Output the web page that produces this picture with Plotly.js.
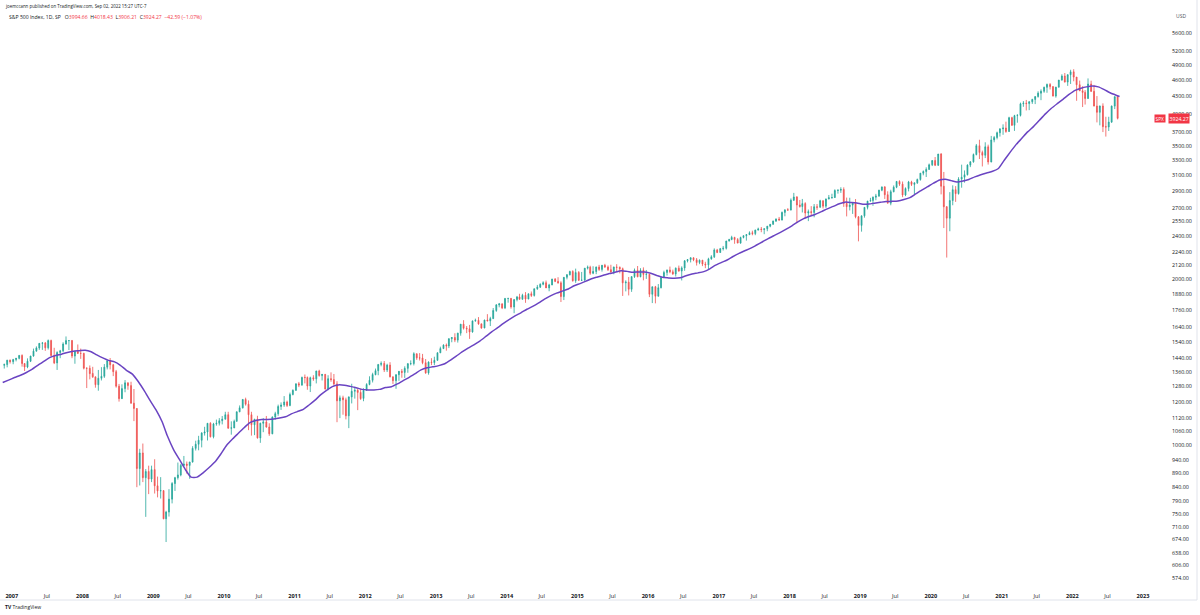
<!DOCTYPE html>
<html><head><meta charset="utf-8">
<script src="https://cdn.plot.ly/plotly-3.0.1.min.js"></script>
<style>html,body{margin:0;padding:0;background:#fff;}#chart{width:1200px;height:615px;}</style>
</head><body><div id="chart"></div>
<script>
// Semi-monthly S&P 500 candles (first period: 2nd half of Nov 2006; last: 16 Aug - 2 Sep 2022)
const firstPeriod = {year: 2006, month: 11, half: 2};
const open = [
1397,1401,1427,
1418,1431,1438,1456,1407,1387,1421,1452,1482,1502,1531,1533,1503,1549,1455,1411,1474,1484,1527,1549,1549,1452,1481,1468,
1468,1380,1379,1350,1331,1288,1323,1334,1386,1424,1400,1360,1280,1215,1267,1298,1283,1192,1166,907,968,873,896,868,
903,844,826,827,735,756,798,852,873,883,919,924,919,932,987,1004,1021,1052,1057,1096,1036,1093,1096,1108,
1115,1136,1074,1075,1105,1150,1169,1211,1187,1136,1089,1115,1031,1096,1102,1079,1049,1125,1141,1176,1183,1198,1181,1236,
1258,1293,1286,1328,1327,1281,1326,1320,1364,1338,1345,1265,1321,1316,1292,1204,1219,1209,1131,1224,1253,1258,1247,1216,
1258,1289,1312,1343,1366,1402,1408,1370,1398,1331,1310,1343,1362,1356,1379,1406,1407,1466,1441,1440,1412,1353,1416,1413,
1426,1472,1498,1520,1515,1561,1569,1552,1598,1659,1631,1627,1606,1682,1686,1661,1633,1688,1682,1698,1757,1798,1806,1776,
1848,1848,1783,1839,1859,1841,1872,1843,1884,1871,1924,1937,1960,1973,1931,1955,2003,1984,1972,1862,2018,2040,2068,1990,
2059,1993,1995,2097,2105,2053,2068,2107,2086,2123,2107,2084,2063,2107,2104,2092,1972,1978,1920,2024,2079,2023,2080,2043,
2044,1880,1940,1865,1932,2016,2060,2081,2065,2047,2097,2072,2099,2162,2174,2190,2171,2147,2168,2133,2126,2180,2199,2263,
2239,2275,2279,2349,2364,2385,2363,2329,2384,2402,2412,2432,2423,2459,2470,2465,2472,2500,2519,2553,2575,2565,2648,2676,
2674,2786,2824,2731,2714,2747,2641,2656,2648,2711,2705,2780,2718,2801,2816,2818,2902,2905,2914,2750,2712,2730,2760,2600,
2507,2610,2704,2776,2784,2822,2834,2906,2946,2851,2752,2887,2942,3014,2980,2848,2926,3007,2977,2996,3038,3120,3141,3169,
3231,3289,3226,3380,2954,2711,2585,2783,2912,2864,3044,3067,3100,3227,3271,3373,3500,3401,3363,3483,3270,3585,3622,3695,
3756,3768,3714,3935,3811,3969,3973,4170,4181,4174,4204,4247,4298,4360,4395,4468,4523,4481,4308,4471,4605,4683,4567,4710,
4766,4663,4516,4402,4374,4263,4530,4393,4132,4024,4132,3790,3785,3863,4130,4297];
const high = [
1407,1429,1431,
1435,1441,1457,1462,1410,1438,1453,1498,1512,1533,1540,1540,1556,1555,1503,1481,1490,1538,1576,1552,1553,1481,1524,1498,
1472,1385,1396,1388,1332,1370,1386,1404,1425,1440,1405,1370,1292,1290,1313,1300,1304,1265,1167,985,1007,905,918,918,
943,877,875,828,760,832,857,876,930,925,956,934,933,996,1019,1040,1056,1080,1097,1101,1098,1113,1120,1130,
1150,1150,1105,1113,1151,1181,1213,1220,1206,1150,1116,1131,1099,1120,1130,1096,1128,1150,1185,1196,1228,1205,1246,1263,
1294,1303,1332,1344,1333,1332,1340,1365,1371,1346,1346,1340,1356,1347,1307,1231,1230,1220,1226,1293,1277,1266,1267,1269,
1296,1334,1354,1378,1403,1420,1422,1406,1415,1333,1345,1364,1375,1391,1410,1426,1475,1467,1470,1465,1434,1420,1439,1448,
1474,1510,1525,1530,1564,1571,1597,1600,1660,1687,1646,1654,1684,1698,1709,1664,1690,1730,1711,1775,1805,1813,1811,1849,
1850,1851,1841,1867,1884,1884,1897,1885,1902,1925,1955,1968,1985,1991,1964,2006,2012,2019,1985,2019,2046,2075,2079,2093,
2072,2064,2098,2120,2118,2114,2111,2126,2124,2135,2121,2127,2110,2132,2112,2102,1993,2021,2028,2094,2116,2097,2104,2081,
2044,1941,1947,1962,2024,2075,2084,2111,2084,2103,2120,2113,2169,2178,2194,2193,2188,2175,2170,2154,2190,2214,2278,2273,
2282,2301,2351,2371,2401,2390,2378,2392,2405,2418,2446,2453,2463,2484,2491,2477,2501,2520,2559,2582,2598,2657,2680,2695,
2807,2873,2835,2789,2801,2763,2680,2718,2742,2742,2791,2785,2805,2848,2863,2916,2916,2941,2940,2817,2815,2765,2800,2607,
2613,2708,2778,2814,2830,2861,2910,2949,2954,2892,2911,2964,3018,3028,3013,2940,3021,3022,3000,3050,3122,3156,3197,3248,
3294,3338,3381,3393,3136,2718,2882,2965,2955,3068,3233,3156,3238,3280,3387,3525,3588,3428,3550,3515,3646,3645,3712,3760,
3827,3870,3950,3950,3982,3994,4191,4218,4238,4220,4258,4302,4394,4430,4480,4537,4546,4486,4476,4608,4718,4743,4715,4808,
4819,4665,4595,4489,4416,4637,4593,4513,4307,4140,4178,3950,3950,4140,4300,4325.28];
const low = [
1378,1385,1407,
1403,1420,1432,1389,1364,1380,1416,1448,1480,1490,1490,1484,1492,1450,1404,1370,1439,1476,1523,1489,1439,1406,1466,1435,
1373,1270,1317,1325,1272,1256,1311,1325,1373,1373,1335,1272,1200,1214,1248,1261,1190,1106,839,845,857,741,815,857,
817,804,800,734,667,742,784,826,866,878,915,888,869,930,978,979,991,1041,1020,1033,1029,1085,1086,1091,
1114,1071,1045,1074,1104,1148,1166,1180,1065,1041,1043,1028,1010,1056,1076,1040,1047,1113,1131,1159,1174,1173,1177,1232,
1255,1275,1282,1295,1261,1249,1309,1295,1332,1311,1262,1258,1304,1282,1101,1120,1136,1114,1074,1191,1215,1158,1209,1202,
1255,1285,1300,1340,1340,1391,1358,1358,1328,1292,1266,1309,1326,1325,1354,1397,1396,1429,1425,1403,1348,1343,1398,1398,
1424,1470,1495,1485,1501,1538,1539,1536,1581,1622,1598,1560,1601,1676,1655,1627,1631,1680,1646,1695,1747,1780,1767,1767,
1815,1770,1737,1825,1839,1839,1814,1842,1859,1862,1915,1930,1952,1930,1904,1953,1978,1965,1820,1835,2001,2034,1982,1972,
1988,1988,1981,2085,2039,2045,2045,2073,2067,2099,2072,2056,2044,2063,2052,1867,1903,1871,1899,2013,2019,2019,1993,2005,
1858,1812,1810,1863,1927,2013,2033,2053,2039,2025,2066,1992,2074,2148,2148,2159,2120,2132,2115,2097,2084,2172,2188,2233,
2238,2258,2267,2345,2357,2322,2328,2323,2375,2353,2410,2406,2407,2455,2437,2417,2447,2488,2515,2544,2557,2560,2605,2667,
2670,2777,2532,2701,2647,2585,2553,2612,2594,2676,2702,2692,2698,2796,2803,2813,2864,2873,2710,2604,2670,2631,2583,2346,
2443,2590,2681,2770,2722,2786,2830,2893,2801,2750,2728,2880,2930,2958,2822,2834,2891,2957,2856,2983,3024,3092,3070,3166,
3214,3214,3215,2855,2480,2192,2447,2728,2767,2853,2936,2999,3090,3200,3260,3361,3310,3209,3323,3234,3265,3550,3594,3636,
3663,3694,3710,3805,3723,3853,3955,4118,4056,4061,4168,4165,4280,4234,4367,4367,4428,4300,4279,4465,4595,4560,4495,4531,
4582,4223,4400,4114,4157,4261,4381,4124,3858,3811,3705,3636,3722,3850,4079,3906.21];
const close = [
1401,1427,1418,
1431,1438,1456,1407,1387,1421,1452,1482,1502,1531,1533,1503,1549,1455,1411,1474,1484,1527,1549,1549,1452,1481,1468,1468,
1380,1379,1349,1331,1288,1323,1334,1386,1424,1400,1360,1280,1215,1267,1298,1283,1192,1166,907,968,873,896,868,903,
844,826,827,735,756,798,852,873,883,919,924,919,932,987,1004,1021,1052,1057,1096,1036,1093,1096,1108,1115,
1136,1074,1075,1105,1150,1169,1211,1187,1136,1089,1115,1031,1096,1102,1079,1049,1125,1141,1176,1183,1198,1181,1236,1258,
1293,1286,1328,1327,1281,1326,1319,1364,1338,1345,1265,1321,1316,1292,1204,1219,1209,1131,1224,1253,1258,1247,1215,1258,
1289,1312,1344,1366,1402,1408,1370,1398,1331,1310,1343,1362,1356,1379,1406,1407,1466,1441,1440,1412,1353,1416,1413,1426,
1472,1498,1520,1515,1561,1569,1552,1598,1659,1631,1627,1606,1682,1686,1661,1633,1688,1682,1698,1757,1798,1806,1776,1848,
1848,1783,1839,1859,1841,1872,1843,1884,1871,1924,1937,1960,1973,1931,1955,2003,1984,1972,1862,2018,2040,2068,1990,2059,
1993,1995,2097,2105,2053,2068,2107,2086,2123,2107,2084,2063,2107,2104,2092,1972,1978,1920,2024,2079,2023,2080,2043,2044,
1880,1940,1865,1932,2016,2060,2081,2065,2047,2097,2072,2099,2162,2174,2190,2171,2147,2168,2133,2126,2180,2199,2263,2239,
2275,2279,2349,2364,2385,2363,2329,2384,2402,2412,2432,2423,2459,2470,2465,2472,2500,2519,2553,2575,2565,2648,2676,2674,
2786,2824,2731,2714,2747,2641,2656,2648,2711,2705,2780,2718,2801,2816,2818,2902,2905,2914,2750,2712,2730,2760,2600,2507,
2610,2704,2776,2784,2822,2834,2906,2946,2851,2752,2887,2942,3014,2980,2848,2926,3007,2977,2996,3038,3120,3141,3169,3231,
3289,3226,3380,2954,2711,2585,2783,2912,2864,3044,3067,3100,3227,3271,3373,3500,3401,3363,3483,3270,3585,3622,3695,3756,
3768,3714,3935,3811,3969,3973,4170,4181,4174,4204,4247,4298,4360,4395,4468,4523,4481,4308,4471,4605,4683,4567,4710,4766,
4663,4516,4402,4374,4263,4530,4393,4132,4024,4132,3790,3785,3863,4130,4297,3924.27];

// 200-day simple moving average, one value per month (mid-month), Nov 2006 .. Aug 2022, then 2 Sep 2022
const maFirstMonth = {year: 2006, month: 11};
const maValues = [
1300,1313,
1327,1340,1354,1373,1397,1420,1442,1455,1463,1474,1482,1485,
1488,1478,1459,1441,1426,1417,1397,1368,1346,1305,1256,1206,
1159,1104,1039,983,943,904,875,875,891,910,932,963,
1000,1027,1050,1076,1099,1109,1113,1114,1116,1120,1126,1140,
1151,1162,1182,1206,1234,1258,1278,1287,1285,1279,1272,1263,
1260,1260,1263,1273,1277,1292,1310,1328,1349,1370,1382,1388,
1395,1406,1426,1451,1477,1501,1522,1546,1576,1606,1635,1665,
1693,1719,1740,1766,1787,1813,1842,1868,1889,1905,1922,1948,
1966,1986,2006,2021,2035,2050,2061,2075,2069,2062,2064,2063,
2053,2034,2018,2013,2010,2014,2032,2047,2056,2067,2091,2123,
2148,2172,2202,2231,2255,2280,2310,2342,2375,2405,2436,2468,
2506,2547,2579,2605,2628,2657,2687,2715,2745,2764,2760,2754,
2741,2743,2752,2762,2771,2773,2777,2794,2817,2861,2907,2948,
2992,3032,3043,3024,3007,3019,3038,3072,3100,3123,3145,3181,
3296,3410,3512,3609,3708,3794,3893,3998,4093,4173,4254,4337,
4412,4451,4476,4492,4476,4425,4367,4323];
const maLastDate = '2022-09-02';
const maLastValue = 4300;

const lastPrice = 3924.27;
const priceTicks = [5600,5200,4900,4600,4300,4000,3700,3500,3300,3100,2900,2700,2550,2400,2240,2120,2000,1880,1760,1640,1540,1440,1360,1280,1200,1120,1060,1000,940,890,840,790,750,710,674,638,606,574];
const timeTickYears = [2007,2008,2009,2010,2011,2012,2013,2014,2015,2016,2017,2018,2019,2020,2021,2022,2023];

const pad = n => String(n).padStart(2,'0');
// candle dates (centre of each half-month period)
const dates = [];
{
  let y = firstPeriod.year, m = firstPeriod.month, h = firstPeriod.half;
  for (let i = 0; i < close.length; i++) {
    dates.push(y + '-' + pad(m) + '-' + (h === 1 ? '08' : '23'));
    if (h === 1) { h = 2; } else { h = 1; m++; if (m > 12) { m = 1; y++; } }
  }
}
const maDates = [];
{
  let y = maFirstMonth.year, m = maFirstMonth.month;
  for (let i = 0; i < maValues.length; i++) {
    maDates.push(y + '-' + pad(m) + '-15');
    m++; if (m > 12) { m = 1; y++; }
  }
}
const maX = maDates.concat([maLastDate]);
const maY = maValues.concat([maLastValue]);

const tickvals = [], ticktext = [];
timeTickYears.forEach(y => {
  tickvals.push(y + '-01-01'); ticktext.push('<b>' + y + '</b>');
  if (y < 2023) { tickvals.push(y + '-07-01'); ticktext.push('Jul'); }
});

const W = 1200, H = 615, ML = 0, MR = 33, MT = 0, MB = 26;
const PW = W - ML - MR, PH = H - MT - MB;
const px = v => (v - ML) / PW;
const py = v => (H - MB - v) / PH;

const green = '#26a69a', red = '#ef5350', txt = '#131722';

const traces = [
  {
    type: 'candlestick', x: dates, open: open, high: high, low: low, close: close,
    increasing: {line: {color: green, width: 0.8}, fillcolor: green},
    decreasing: {line: {color: red, width: 0.8}, fillcolor: red},
    whiskerwidth: 0, hoverinfo: 'skip', showlegend: false
  },
  {
    type: 'scatter', mode: 'lines', x: maX, y: maY,
    line: {color: '#6a44c2', width: 1.5, shape: 'spline', smoothing: 0.6},
    hoverinfo: 'skip', showlegend: false
  }
];

const annotations = [
  {xref:'paper', yref:'paper', x:px(3), y:py(6), xanchor:'left', yanchor:'middle', showarrow:false,
   text:'joemccann published on TradingView.com, Sep 02, 2022 15:27 UTC-7',
   font:{family:'Open Sans, sans-serif', size:4.4, color:txt}},
  {xref:'paper', yref:'paper', x:px(7), y:py(17), xanchor:'left', yanchor:'middle', showarrow:false,
   text:'S&amp;P 500 Index, 1D, SP   O<span style="color:#f23645">3994.66</span>  H<span style="color:#f23645">4018.43</span>  L<span style="color:#f23645">3906.21</span>  C<span style="color:#f23645">3924.27</span>  <span style="color:#f23645">−42.59 (−1.07%)</span>',
   font:{family:'Open Sans, sans-serif', size:5.1, color:txt}},
  {xref:'paper', yref:'paper', x:px(1174), y:py(16), xanchor:'left', yanchor:'middle', showarrow:false,
   text:'USD', font:{family:'Open Sans, sans-serif', size:5, color:'#50535e'}},
  {xref:'paper', yref:'y', x:px(1160), y:Math.log10(lastPrice), xanchor:'center', yanchor:'middle', showarrow:false,
   text:'SPX', bgcolor:'#f23645', borderpad:0.5, font:{family:'Open Sans, sans-serif', size:4.8, color:'#ffffff'}},
  {xref:'paper', yref:'y', x:px(1168), y:Math.log10(lastPrice), xanchor:'left', yanchor:'middle', showarrow:false,
   text:'3924.27', bgcolor:'#f23645', borderpad:0.5, font:{family:'Open Sans, sans-serif', size:5.2, color:'#ffffff'}},
  {xref:'paper', yref:'paper', x:px(3), y:py(607), xanchor:'left', yanchor:'middle', showarrow:false,
   text:'<b>TV</b> TradingView', font:{family:'Open Sans, sans-serif', size:5, color:txt}}
];
const lens = [open.length, high.length, low.length, close.length];
if (new Set(lens).size > 1) {
  annotations.push({xref:'paper', yref:'paper', x:0.4, y:0.5, showarrow:false, text:'LEN MISMATCH ' + lens.join(','), font:{size:20,color:'red'}});
}

const layout = {
  width: W, height: H,
  margin: {l: ML, r: MR, t: MT, b: MB},
  paper_bgcolor: '#ffffff', plot_bgcolor: '#ffffff',
  showlegend: false, hovermode: false,
  boxgap: 0.5,
  xaxis: {
    type: 'date', range: ['2006-11-01', '2023-05-05'],
    tickmode: 'array', tickvals: tickvals, ticktext: ticktext,
    showgrid: false, zeroline: false, showline: false, ticks: '',
    tickfont: {family: 'Open Sans, sans-serif', size: 5.6, color: txt},
    ticklabelstandoff: 2,
    rangeslider: {visible: false}, fixedrange: true
  },
  yaxis: {
    type: 'log', side: 'right',
    range: [2.7388, 3.8087],
    tickmode: 'array', tickvals: priceTicks, ticktext: priceTicks.map(v => v.toFixed(2)),
    showgrid: false, zeroline: false, showline: false, ticks: '',
    tickfont: {family: 'Open Sans, sans-serif', size: 5.4, color: txt},
    ticklabelstandoff: 4, fixedrange: true
  },
  shapes: [
    {type:'line', xref:'paper', yref:'y', x0:0, x1:1, y0:Math.log10(lastPrice), y1:Math.log10(lastPrice),
     line:{color:'#f23645', width:1, dash:'dot'}, opacity:0.6},
    {type:'line', xref:'paper', yref:'paper', x0:px(1197), x1:px(1197), y0:py(0), y1:py(600),
     line:{color:'#e0e3eb', width:1}},
    {type:'line', xref:'paper', yref:'paper', x0:0, x1:px(1197), y0:py(600), y1:py(600),
     line:{color:'#e0e3eb', width:1}}
  ],
  annotations: annotations
};

Plotly.newPlot('chart', traces, layout, {displayModeBar: false, staticPlot: true});
</script>
</body></html>
